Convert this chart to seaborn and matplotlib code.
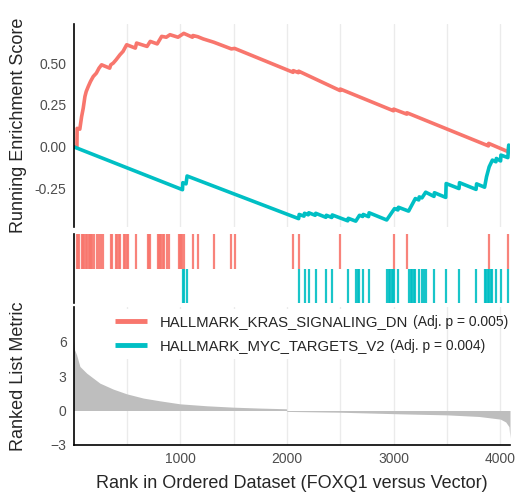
"""
GSEA running score plot: KRAS_SIGNALING_DN vs MYC_TARGETS_V2 (FOXQ1 versus Vector)
"""
import numpy as np
import pandas as pd
import matplotlib
matplotlib.use("Agg")
import matplotlib.pyplot as plt
import seaborn as sns

sns.set_style("white")
plt.rcParams["font.family"] = ["Liberation Sans", "DejaVu Sans"]

N_GENES = 4090
RED  = "#F8766D"
BLUE = "#00BFC4"

set_names = ["HALLMARK_KRAS_SIGNALING_DN", "HALLMARK_MYC_TARGETS_V2"]
set_padj  = ["(Adj. p = 0.005)", "(Adj. p = 0.004)"]

# ── running enrichment score (rank, score)
kras_rank = [1, 33, 35, 60, 77, 92, 108, 120, 139, 160, 186, 215, 240, 264, 340, 350,
             373, 400, 436, 465, 499, 580, 592, 690, 720, 785, 827, 870, 905, 980, 1034,
             1115, 1120, 1165, 1215, 1315, 1480, 1510, 2058, 2060, 2108, 2110, 2498,
             2500, 2998, 3000, 3123, 3125, 3888, 3890, 4073, 4078]
kras_es   = [0.0, -0.005, 0.11, 0.105, 0.18, 0.23, 0.30, 0.33, 0.36, 0.39, 0.42, 0.44,
             0.47, 0.49, 0.47, 0.49, 0.50, 0.52, 0.55, 0.57, 0.61, 0.59, 0.62, 0.60,
             0.63, 0.615, 0.66, 0.655, 0.67, 0.655, 0.678, 0.655, 0.665, 0.658, 0.645,
             0.625, 0.585, 0.588, 0.445, 0.455, 0.443, 0.452, 0.336, 0.345, 0.215,
             0.225, 0.195, 0.203, 0.005, 0.02, -0.03, 0.0]

myc_rank = [1, 1022, 1025, 1055, 1065, 2110, 2115, 2160, 2165, 2200, 2205, 2265, 2270,
            2365, 2370, 2420, 2425, 2570, 2575, 2645, 2680, 2710, 2715, 2765, 2770,
            2935, 3008, 3040, 3045, 3140, 3203, 3235, 3240, 3265, 3300, 3378, 3382,
            3488, 3492, 3612, 3617, 3772, 3777, 3852, 3870, 3895, 3925, 3958, 3962,
            4002, 4005, 4070, 4078]
myc_es   = [0.0, -0.257, -0.215, -0.222, -0.175, -0.43, -0.405, -0.415, -0.398, -0.407,
            -0.395, -0.41, -0.398, -0.422, -0.41, -0.423, -0.408, -0.443, -0.428, -0.445,
            -0.41, -0.417, -0.405, -0.418, -0.395, -0.438, -0.37, -0.378, -0.362, -0.385,
            -0.31, -0.318, -0.30, -0.306, -0.272, -0.297, -0.275, -0.303, -0.22, -0.25,
            -0.215, -0.255, -0.222, -0.242, -0.18, -0.12, -0.08, -0.09, -0.07, -0.085,
            -0.05, -0.065, 0.01]

# ── hit positions in the ranked list
kras_hits = [35, 45, 55, 80, 92, 104, 115, 132, 145, 153, 165, 178, 190, 220, 238, 258,
             276, 350, 364, 400, 412, 425, 438, 470, 480, 500, 514, 588, 695, 708, 720,
             790, 800, 812, 825, 838, 850, 878, 895, 985, 997, 1010, 1022, 1034, 1120,
             1165, 1315, 1480, 1510, 2060, 2110, 2500, 3000, 3125, 3890, 4075]
myc_hits = [1025, 1038, 1065, 2115, 2165, 2205, 2270, 2370, 2425, 2575, 2650, 2665,
            2680, 2715, 2770, 2940, 2955, 2968, 2980, 2995, 3008, 3045, 3145, 3160, 3175,
            3190, 3203, 3240, 3270, 3285, 3300, 3380, 3490, 3615, 3775, 3855, 3868, 3880,
            3895, 3910, 3925, 3962, 4005, 4075]

# ── ranked list metric (sampled along the ranking)
metric_rank = [1, 10, 30, 61, 124, 248, 373, 499, 655, 811, 998, 1249, 1498, 1748,
               1995, 2000, 2500, 3061, 3500, 3800, 4000, 4050, 4080, 4090]
metric_val  = [6.2, 5.3, 4.84, 3.83, 3.25, 2.38, 1.86, 1.45, 1.08, 0.84, 0.58, 0.41,
               0.29, 0.21, 0.15, -0.08, -0.15, -0.29, -0.38, -0.52, -0.75, -1.0, -1.4, -2.4]

es_df = pd.concat([
    pd.DataFrame({"rank": kras_rank, "es": kras_es, "set": set_names[0]}),
    pd.DataFrame({"rank": myc_rank, "es": myc_es, "set": set_names[1]}),
])

W, H = 516, 495
fig = plt.figure(figsize=(W / 100, H / 100), dpi=100)

def rect(x0, y0, x1, y1):
    return [x0 / W, 1 - y1 / H, (x1 - x0) / W, (y1 - y0) / H]

ax_es  = fig.add_axes(rect(73.5, 24, 510, 227))
ax_hit = fig.add_axes(rect(73.5, 234, 510, 303))
ax_rk  = fig.add_axes(rect(73.5, 307, 510, 445))

TICK_COL = "#4D4D4D"
GRID_COL = "#EBEBEB"

# ── Panel 1: running ES
sns.lineplot(data=es_df, x="rank", y="es", hue="set", palette=[RED, BLUE],
             estimator=None, sort=False, lw=2.6, ax=ax_es, legend=False)
ax_es.set_xlim(1, N_GENES)
ax_es.set_ylim(-0.48, 0.734)
ax_es.set_yticks([-0.25, 0, 0.25, 0.5])
ax_es.set_yticklabels(["-0.25", "0.00", "0.25", "0.50"])
ax_es.set_xticks(np.arange(500, 4001, 500))
ax_es.grid(axis="x", color=GRID_COL, lw=1)
ax_es.tick_params(axis="x", length=0, labelbottom=False)
ax_es.tick_params(axis="y", length=3, width=0.8, color="#333333", labelsize=10,
                  labelcolor=TICK_COL, pad=2)
ax_es.set_xlabel("")
ax_es.set_ylabel("Running Enrichment Score", fontsize=13)
ax_es.yaxis.set_label_coords(-0.107, 0.5)
for s in ["top", "right", "bottom"]:
    ax_es.spines[s].set_visible(False)
ax_es.spines["left"].set_color("black")
ax_es.spines["left"].set_linewidth(1.2)

# ── Panel 2: hit ticks
ax_hit.vlines(kras_hits, 1, 2, color=RED, lw=1.6, alpha=0.9)
ax_hit.vlines(myc_hits, 0, 1, color=BLUE, lw=1.6, alpha=0.9)
ax_hit.set_xlim(1, N_GENES)
ax_hit.set_ylim(0, 2)
ax_hit.set_xticks([])
ax_hit.set_yticks([])
for s in ["top", "right", "bottom"]:
    ax_hit.spines[s].set_visible(False)
ax_hit.spines["left"].set_color("black")
ax_hit.spines["left"].set_linewidth(1.2)

# ── Panel 3: ranked list metric
ax_rk.fill_between(metric_rank, metric_val, 0, color="#BEBEBE", lw=0)
ax_rk.set_xlim(1, N_GENES)
ax_rk.set_ylim(-3, 9)
ax_rk.set_yticks([-3, 0, 3, 6])
ax_rk.set_xticks([1000, 2000, 3000, 4000])
ax_rk.set_xticks(np.arange(500, 4001, 1000), minor=True)
ax_rk.grid(axis="x", which="both", color=GRID_COL, lw=1)
ax_rk.set_axisbelow(True)
ax_rk.tick_params(axis="both", which="major", length=3, width=0.8, color="#333333",
                  labelsize=10, labelcolor=TICK_COL, pad=2)
ax_rk.tick_params(axis="x", which="minor", length=0)
ax_rk.set_ylabel("Ranked List Metric", fontsize=13)
ax_rk.yaxis.set_label_coords(-0.107, 0.5)
for s in ["top", "right"]:
    ax_rk.spines[s].set_visible(False)
for s in ["left", "bottom"]:
    ax_rk.spines[s].set_color("black")
    ax_rk.spines[s].set_linewidth(1.2)

handles = [plt.Line2D([], [], color=c, lw=3.5, solid_capstyle="butt") for c in (RED, BLUE)]
leg = ax_rk.legend(handles, set_names, loc="upper left", bbox_to_anchor=(0.081, 0.982),
                   fontsize=10.7, frameon=True, facecolor="white", edgecolor="none",
                   framealpha=1, borderaxespad=0, handlelength=2.2, labelspacing=0.65,
                   fancybox=False)

fig.text(292 / W, 1 - 483 / H, "Rank in Ordered Dataset (FOXQ1 versus Vector)",
         ha="center", va="center", fontsize=13)

# adjusted p-values in a smaller font, on the same baseline as each legend label
fig.canvas.draw()
for txt, p in zip(leg.get_texts(), set_padj):
    bb = txt.get_window_extent()
    y_base = txt.get_transform().transform(txt.get_position())[1]
    fig.text((bb.x1 + 5) / W, y_base / H, p, va="baseline", ha="left", fontsize=10)

fig.savefig("out.png", dpi=100)
